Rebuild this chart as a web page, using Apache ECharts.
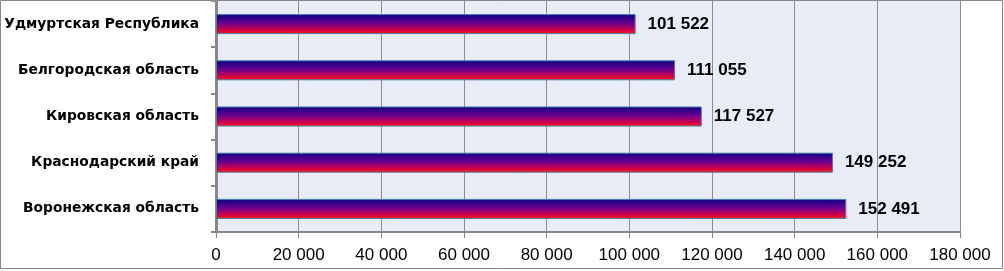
<!DOCTYPE html>
<html><head><meta charset="utf-8">
<script src="https://cdn.jsdelivr.net/npm/echarts@6/dist/echarts.min.js"></script>
<style>html,body{margin:0;padding:0;background:#fff}#c{width:1004px;height:271px}</style>
</head><body><div id="c"></div>
<script>
const categories = ['Удмуртская Республика','Белгородская область','Кировская область','Краснодарский край','Воронежская область'];
const values = [101522, 111055, 117527, 149252, 152491];
const axisMin = 0, axisMax = 180000, axisStep = 20000;

function fmt(v){ return String(v).replace(/\B(?=(\d{3})+(?!\d))/g, ' '); }

const chart = echarts.init(document.getElementById('c'), null, {renderer:'canvas'});
chart.setOption({
  animation:false,
  graphic:[{type:'rect', shape:{x:0.5,y:0.5,width:1002,height:268}, style:{fill:'none', stroke:'#888', lineWidth:1}, z:100}],
  grid:{left:216, right:44, top:1, bottom:39, containLabel:false, outerBoundsMode:'none', show:true, backgroundColor:'#E8ECF6', borderWidth:0},
  xAxis:{type:'value', min:axisMin, max:axisMax, interval:axisStep,
    axisLine:{show:true, lineStyle:{color:'#888', width:2}},
    axisTick:{show:true, length:6, lineStyle:{color:'#888', width:1}},
    splitLine:{show:true, lineStyle:{color:'#8c8c8c', width:1}},
    axisLabel:{color:'#000', fontSize:17, fontFamily:'Liberation Sans, Arial, sans-serif', margin:15, formatter:fmt}},
  yAxis:{type:'category', data:categories, inverse:true,
    axisLine:{show:true, lineStyle:{color:'#888', width:3}},
    axisTick:{show:true, length:5, lineStyle:{color:'#888', width:2}},
    axisLabel:{color:'#000', fontSize:13.8, fontWeight:'bold', fontFamily:'DejaVu Sans, sans-serif', margin:17}},
  series:[{type:'bar', data:values, barWidth:20,
    itemStyle:{borderColor:'#4a7ab0', borderWidth:1,
      color:new echarts.graphic.LinearGradient(0,0,0,1,[
        {offset:0, color:'#0a0080'},{offset:0.45, color:'#6a0090'},{offset:0.8, color:'#d0004a'},{offset:1, color:'#ff2000'}])},
    label:{show:true, position:'right', distance:12, color:'#000', fontSize:17, fontWeight:'bold', fontFamily:'Liberation Sans, Arial, sans-serif', formatter:p=>fmt(p.value)}}]
});
</script></body></html>
